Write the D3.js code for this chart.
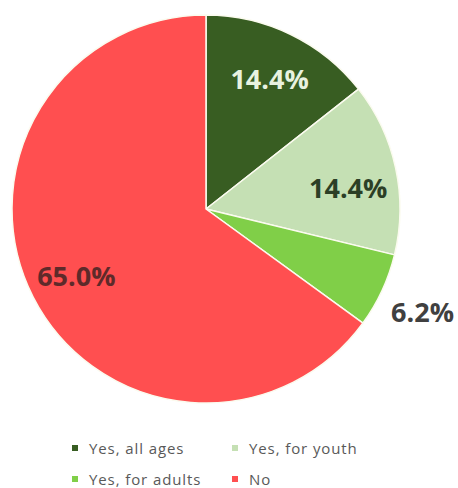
<!DOCTYPE html>
<html>
<head>
<meta charset="utf-8">
<script src="https://cdn.jsdelivr.net/npm/d3@7"></script>
<style>
  body { margin: 0; background: #fff; }
  svg { display: block; }
</style>
</head>
<body>
<svg id="chart" width="458" height="488"></svg>
<script>
const categories = ["Yes, all ages", "Yes, for youth", "Yes, for adults", "No"];
const values = [14.4, 14.4, 6.2, 65.0];
const colors = ["#385d22", "#c5e0b4", "#80cf48", "#ff4f50"];
const labelColors = ["#e8f2e0", "#2c3f26", "#404040", "#5e2a2a"];
const labelOutside = [false, false, true, false];
// small vertical nudges for the value labels (px)
const labelShiftY = [0, 9, 2, 0];

const svg = d3.select("#chart");
const cx = 206, cy = 209, R = 194;

const pie = d3.pie().sort(null).value(d => d.value);
const data = pie(categories.map((c, i) => ({ name: c, value: values[i], i })));

const arc = d3.arc().innerRadius(0).outerRadius(R);
const inLabel = d3.arc().innerRadius(R * 0.75).outerRadius(R * 0.75);
const outLabel = d3.arc().innerRadius(R * 1.23).outerRadius(R * 1.23);

const g = svg.append("g").attr("transform", `translate(${cx},${cy})`);

g.selectAll("path.slice")
  .data(data)
  .join("path")
  .attr("class", "slice")
  .attr("d", arc)
  .attr("fill", d => colors[d.data.i])
  .attr("stroke", "#fbfbef")
  .attr("stroke-width", 1.5)
  .attr("stroke-linejoin", "round");

g.selectAll("text.value")
  .data(data)
  .join("text")
  .attr("class", "value")
  .attr("transform", d => {
    const [x, y] = (labelOutside[d.data.i] ? outLabel : inLabel).centroid(d);
    return `translate(${x},${y + labelShiftY[d.data.i]})`;
  })
  .attr("text-anchor", "middle")
  .attr("dominant-baseline", "central")
  .attr("font-family", "'Open Sans', 'Noto Sans', sans-serif")
  .attr("font-weight", "bold")
  .attr("font-size", 27)
  .attr("fill", d => labelColors[d.data.i])
  .text(d => d.data.value.toFixed(1) + "%");

// Legend: two columns, two rows
const legendCols = [75, 235];
const legendRows = [448, 479];
const legend = svg.append("g")
  .selectAll("g")
  .data(categories)
  .join("g")
  .attr("transform", (d, i) => `translate(${legendCols[i % 2]},${legendRows[Math.floor(i / 2)]})`);

legend.append("rect")
  .attr("x", -3).attr("y", -3)
  .attr("width", 6).attr("height", 6)
  .attr("fill", (d, i) => colors[i]);

legend.append("text")
  .attr("x", 14)
  .attr("dominant-baseline", "central")
  .attr("font-family", "'Open Sans', 'Noto Sans', sans-serif")
  .attr("font-size", 15)
  .attr("letter-spacing", 0.9)
  .attr("fill", "#595959")
  .text(d => d);
</script>
</body>
</html>
